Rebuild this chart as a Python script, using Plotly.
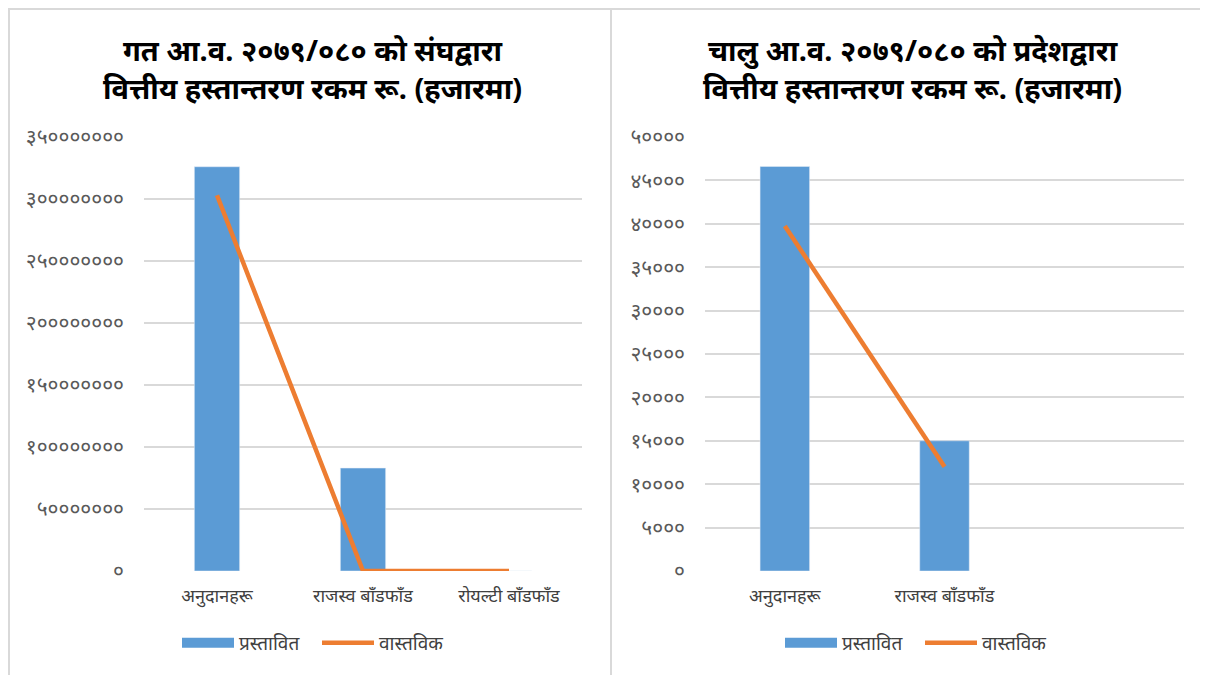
import plotly.graph_objects as go

# left panel: federal transfers, last FY
left_title = "गत आ.व. २०७९/०८० को संघद्वारा<br>वित्तीय हस्तान्तरण रकम रू. (हजारमा)"
left_categories = ["अनुदानहरू", "राजस्व बाँडफाँड", "रोयल्टी बाँडफाँड"]
left_proposed = [326000000, 83000000, 0]
left_actual = [303000000, 0, 0]
left_tickvals = [0, 50000000, 100000000, 150000000, 200000000, 250000000, 300000000, 350000000]
left_ticktext = ["०", "५०००००००", "१००००००००", "१५०००००००", "२००००००००", "२५०००००००", "३००००००००", "३५०००००००"]

# right panel: provincial transfers, current FY
right_title = "चालु आ.व. २०७९/०८० को प्रदेशद्वारा<br>वित्तीय हस्तान्तरण रकम रू. (हजारमा)"
right_categories = ["अनुदानहरू", "राजस्व बाँडफाँड", " "]
right_proposed = [46600, 15000, None]
right_actual = [39750, 12000, None]
right_tickvals = [0, 5000, 10000, 15000, 20000, 25000, 30000, 35000, 40000, 45000, 50000]
right_ticktext = ["०", "५०००", "१००००", "१५०००", "२००००", "२५०००", "३००००", "३५०००", "४००००", "४५०००", "५००००"]

series_names = ["प्रस्तावित", "वास्तविक"]

BLUE = "#5B9BD5"
ORANGE = "#ED7D31"
GRID = "#D9D9D9"
FONT = "Noto Sans, DejaVu Sans, sans-serif"

W, H = 1208, 675
OFF = 8  # page body margin


def px(x):
    return (x - OFF) / W


def py(y):
    return 1 - (y - OFF) / H


fig = go.Figure()

panels = [
    (left_categories, left_proposed, left_actual, "x", "y", "legend", "legend2"),
    (right_categories, right_proposed, right_actual, "x2", "y2", "legend3", "legend4"),
]
for cats, proposed, actual, xa, ya, lg_bar, lg_line in panels:
    fig.add_trace(go.Bar(x=cats, y=proposed, name=series_names[0], marker_color=BLUE, width=0.31,
                         xaxis=xa, yaxis=ya, showlegend=False))
    # wide blue swatch for the legend, like the original
    fig.add_trace(go.Scatter(x=[None], y=[None], name=series_names[0], mode="lines",
                             line=dict(color=BLUE, width=10), xaxis=xa, yaxis=ya, legend=lg_bar))
    fig.add_trace(go.Scatter(x=cats, y=actual, name=series_names[1], mode="lines",
                             line=dict(color=ORANGE, width=4.5), xaxis=xa, yaxis=ya, legend=lg_line))

xaxis_common = dict(showgrid=False, showline=False, ticks="", automargin=False, ticklabelstandoff=12,
                    tickfont=dict(size=18, color="#404040", family=FONT))
yaxis_common = dict(showgrid=True, gridcolor=GRID, gridwidth=1.5, zeroline=False, showline=False,
                    automargin=False, tickfont=dict(size=21, color="#595959", family=FONT),
                    ticklabelstandoff=19)
legend_common = dict(orientation="h", xanchor="left", yanchor="middle",
                     font=dict(size=19, color="#404040", family=FONT), itemwidth=52,
                     bgcolor="rgba(0,0,0,0)")

border = dict(color=GRID, width=2)

fig.update_layout(
    width=W, height=H,
    margin=dict(l=0, r=0, t=0, b=0, autoexpand=False),
    paper_bgcolor="white", plot_bgcolor="white",
    font=dict(family=FONT, color="#404040"),
    showlegend=True,
    xaxis=dict(domain=[px(144), px(582)], anchor="y", categoryorder="array", categoryarray=left_categories,
               **xaxis_common),
    yaxis=dict(domain=[py(571), py(137)], anchor="x", range=[0, 350000000], tickvals=left_tickvals,
               ticktext=left_ticktext, **yaxis_common),
    xaxis2=dict(domain=[px(705), px(1184)], anchor="y2", categoryorder="array", categoryarray=right_categories,
                **xaxis_common),
    yaxis2=dict(domain=[py(571), py(137)], anchor="x2", range=[0, 50000], tickvals=right_tickvals,
                ticktext=right_ticktext, **yaxis_common),
    legend=dict(x=px(177), y=py(643), **legend_common),
    legend2=dict(x=px(317), y=py(643), **legend_common),
    legend3=dict(x=px(780), y=py(643), **legend_common),
    legend4=dict(x=px(920), y=py(643), **legend_common),
    annotations=[
        dict(text="<b>" + left_title + "</b>", x=px(312), y=py(68), xref="paper", yref="paper",
             xanchor="center", yanchor="middle", showarrow=False,
             font=dict(size=29, color="black", family=FONT), align="center"),
        dict(text="<b>" + right_title + "</b>", x=px(912), y=py(68), xref="paper", yref="paper",
             xanchor="center", yanchor="middle", showarrow=False,
             font=dict(size=29, color="black", family=FONT), align="center"),
    ],
    shapes=[
        dict(type="line", xref="paper", yref="paper", x0=px(8), x1=px(1216), y0=py(9), y1=py(9), line=border),
        dict(type="line", xref="paper", yref="paper", x0=px(9), x1=px(9), y0=py(8), y1=py(690), line=border),
        dict(type="line", xref="paper", yref="paper", x0=px(611), x1=px(611), y0=py(8), y1=py(690), line=border),
    ],
)

fig.write_html("out.html")
